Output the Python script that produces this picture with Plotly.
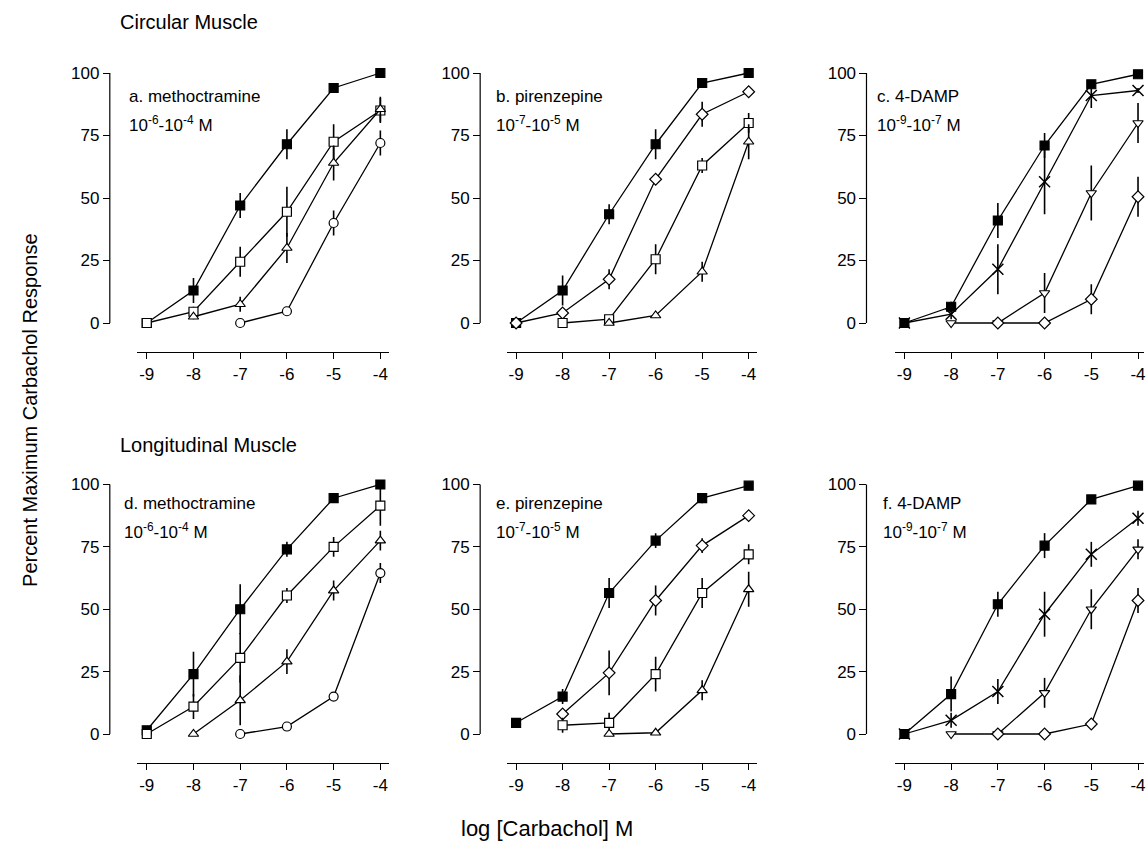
import plotly.graph_objects as go

W, H = 1146, 856

x_log = [-9, -8, -7, -6, -5, -4]
x_ticks = [-9, -8, -7, -6, -5, -4]
x_ticktext = ["-9", "-8", "-7", "-6", "-5", "-4"]
y_ticks = [0, 25, 50, 75, 100]

# ---- Circular muscle ----
a_ctrl = [0, 13, 47, 71.5, 94, 100]
a_ctrl_err = [0, 5, 5, 6, 1, 0]
a_low = [0, 4.5, 24.5, 44.5, 72.5, 85]
a_low_err = [0, 2, 6, 10, 7, 5]
a_mid = [None, 2.5, 7.5, 30, 64, 85.5]
a_mid_err = [0, 1, 3, 6, 7, 5]
a_high = [None, None, 0, 4.7, 40, 72]
a_high_err = [0, 0, 0, 0, 5, 5]

b_ctrl = [0, 13, 43.5, 71.5, 96, 100]
b_ctrl_err = [0, 6, 4, 6, 1, 0]
b_low = [0, 4, 17.5, 57.5, 83.5, 92.5]
b_low_err = [0, 2, 4, 1, 5, 1]
b_mid = [None, 0, 1.5, 25.5, 63, 80]
b_mid_err = [0, 0, 1, 6, 3, 4]
b_high = [None, None, 0, 3, 20.5, 72.5]
b_high_err = [0, 0, 0, 1, 4, 7]

c_ctrl = [0, 6.5, 41, 71, 95.5, 99.5]
c_ctrl_err = [0, 2, 7, 5, 1, 0]
c_low = [0, 3.5, 21.5, 56.5, 91, 93]
c_low_err = [0, 2, 10, 13, 5, 1]
c_mid = [None, 0, 0, 12, 52, 80]
c_mid_err = [0, 0, 0, 8, 11, 8]
c_high = [None, None, 0, 0, 9.5, 50.5]
c_high_err = [0, 0, 0, 0, 6, 8]

# ---- Longitudinal muscle ----
d_ctrl = [1.5, 24, 50, 74, 94.5, 100]
d_ctrl_err = [0, 9, 10, 3, 1, 0]
d_low = [0, 11, 30.5, 55.5, 75, 91.5]
d_low_err = [0, 5, 10, 3, 4, 8]
d_mid = [None, 0, 13.5, 29, 57.5, 77.5]
d_mid_err = [0, 0, 10, 5, 4, 4]
d_high = [None, None, 0, 3, 15, 64.5]
d_high_err = [0, 0, 0, 0, 1, 4]

e_ctrl = [4.5, 15, 56.5, 77.5, 94.5, 99.5]
e_ctrl_err = [0, 3, 6, 3, 2, 0]
e_low = [None, 8, 24.5, 53.5, 75.5, 87.5]
e_low_err = [0, 1, 9, 6, 3, 1]
e_mid = [None, 3.5, 4.5, 24, 56.5, 72]
e_mid_err = [0, 3, 4, 7, 6, 4]
e_high = [None, None, 0, 0.5, 17.5, 58]
e_high_err = [0, 0, 0, 0, 4, 7]

f_ctrl = [0, 16, 52, 75.5, 94, 99.5]
f_ctrl_err = [0, 7, 5, 5, 1, 0]
f_low = [0, 5.5, 17, 48, 72, 86.5]
f_low_err = [0, 3, 5, 9, 5, 3]
f_mid = [None, 0, 0, 16.5, 50, 74]
f_mid_err = [0, 0, 0, 6, 8, 4]
f_high = [None, None, 0, 0, 4, 53.5]
f_high_err = [0, 0, 0, 0, 1, 5]

panel_names = ["a. methoctramine", "b. pirenzepine", "c. 4-DAMP",
               "d. methoctramine", "e. pirenzepine", "f. 4-DAMP"]
panel_conc = ["10<sup>-6</sup>-10<sup>-4</sup> M", "10<sup>-7</sup>-10<sup>-5</sup> M",
              "10<sup>-9</sup>-10<sup>-7</sup> M", "10<sup>-6</sup>-10<sup>-4</sup> M",
              "10<sup>-7</sup>-10<sup>-5</sup> M", "10<sup>-9</sup>-10<sup>-7</sup> M"]

panels = [
    [(a_ctrl, a_ctrl_err), (a_low, a_low_err), (a_mid, a_mid_err), (a_high, a_high_err)],
    [(b_ctrl, b_ctrl_err), (b_low, b_low_err), (b_mid, b_mid_err), (b_high, b_high_err)],
    [(c_ctrl, c_ctrl_err), (c_low, c_low_err), (c_mid, c_mid_err), (c_high, c_high_err)],
    [(d_ctrl, d_ctrl_err), (d_low, d_low_err), (d_mid, d_mid_err), (d_high, d_high_err)],
    [(e_ctrl, e_ctrl_err), (e_low, e_low_err), (e_mid, e_mid_err), (e_high, e_high_err)],
    [(f_ctrl, f_ctrl_err), (f_low, f_low_err), (f_mid, f_mid_err), (f_high, f_high_err)],
]

# marker styles: control, then increasing antagonist concentrations
sym_methoc = [("square", "black"), ("square", "white"), ("triangle-up", "white"), ("circle", "white")]
sym_pirenz = [("square", "black"), ("diamond", "white"), ("square", "white"), ("triangle-up", "white")]
sym_damp = [("square", "black"), ("x-thin", "black"), ("triangle-down", "white"), ("diamond", "white")]
panel_syms = [sym_methoc, sym_pirenz, sym_damp, sym_methoc, sym_pirenz, sym_damp]

FONT = "Liberation Sans, Arial"

# layout geometry (pixels)
col_yaxis_px = [110, 481, 868]
col_xdom_px = [(137, 390), (508, 758), (897, 1146)]
col_xrange = [(-9.214, -3.808), (-9.193, -3.828), (-9.192, -3.872)]
row_ydom_px = [(352, 60), (763, 472)]   # (bottom, top)
row_yrange = [(-11.6, 105.2), (-11.62, 105.0)]
row_label_px = [(97, 124), (503, 531)]
col_label_x = [[127, 495, 877], [122, 495, 883]]

fig = go.Figure()
for p in range(6):
    r, c = divmod(p, 3)
    sfx = "" if p == 0 else str(p + 1)
    xa, ya = "x" + sfx, "y" + sfx
    for (vals, errs), (sym, fill) in zip(panels[p], panel_syms[p]):
        is_x = sym.startswith("x")
        fig.add_trace(go.Scatter(
            x=x_log, y=vals, xaxis=xa, yaxis=ya, mode="lines+markers",
            line=dict(color="black", width=1.3),
            marker=dict(symbol=sym, size=11 if is_x else 9, color=fill,
                        line=dict(color="black", width=1.5 if is_x else 1.2)),
            error_y=dict(type="data", array=errs, visible=True, width=0,
                         thickness=1.6, color="black"),
            cliponaxis=False, showlegend=False, connectgaps=False,
            hoverinfo="skip",
        ))
    x0, x1 = col_xdom_px[c]
    yb, yt = row_ydom_px[r]
    fig.update_layout(**{
        "xaxis" + sfx: dict(
            domain=[x0 / W, x1 / W], range=list(col_xrange[c]), anchor=ya,
            showline=True, linecolor="black", linewidth=1.2, ticks="outside",
            ticklen=6, tickcolor="black", tickvals=x_ticks, ticktext=x_ticktext,
            showgrid=False, zeroline=False, fixedrange=True,
            ticklabeloverflow="allow",
            tickfont=dict(family=FONT, size=17, color="black"),
        ),
        "yaxis" + sfx: dict(
            domain=[1 - yb / H, 1 - yt / H], range=list(row_yrange[r]),
            anchor="free", position=col_yaxis_px[c] / W,
            showline=False, ticks="outside", ticklen=7, tickcolor="black",
            tickvals=y_ticks, showgrid=False, zeroline=False, fixedrange=True,
            tickfont=dict(family=FONT, size=17, color="black"),
        ),
    })
    # y axis line spanning 0..100 only
    fig.add_shape(type="line", xref="paper", yref=ya,
                  x0=col_yaxis_px[c] / W, x1=col_yaxis_px[c] / W, y0=0, y1=100,
                  line=dict(color="black", width=1.2))
    l1, l2 = row_label_px[r]
    lx = col_label_x[r][c] / W
    for txt, ypx in ((panel_names[p], l1), (panel_conc[p], l2)):
        fig.add_annotation(text=txt, xref="paper", yref="paper", x=lx, y=1 - ypx / H,
                           xanchor="left", yanchor="middle", showarrow=False,
                           font=dict(family=FONT, size=17, color="black"))

for txt, xpx, ypx in (("Circular Muscle", 118, 22), ("Longitudinal Muscle", 118, 445)):
    fig.add_annotation(text=txt, xref="paper", yref="paper", x=xpx / W, y=1 - ypx / H,
                       xanchor="left", yanchor="middle", showarrow=False,
                       font=dict(family=FONT, size=20, color="black"))

fig.add_annotation(text="Percent Maximum Carbachol Response", xref="paper", yref="paper",
                   x=30 / W, y=1 - 410 / H, textangle=-90, showarrow=False,
                   xanchor="center", yanchor="middle",
                   font=dict(family=FONT, size=20, color="black"))
fig.add_annotation(text="log [Carbachol] M", xref="paper", yref="paper",
                   x=548 / W, y=1 - 828 / H, showarrow=False,
                   xanchor="center", yanchor="middle",
                   font=dict(family=FONT, size=22, color="black"))

fig.update_layout(width=W, height=H, margin=dict(l=0, r=0, t=0, b=0),
                  paper_bgcolor="white", plot_bgcolor="white", showlegend=False,
                  hovermode=False)
fig.write_html("out.html", config={"displayModeBar": False, "staticPlot": True},
               post_script="document.body.style.margin='0';document.body.style.overflow='hidden';")
